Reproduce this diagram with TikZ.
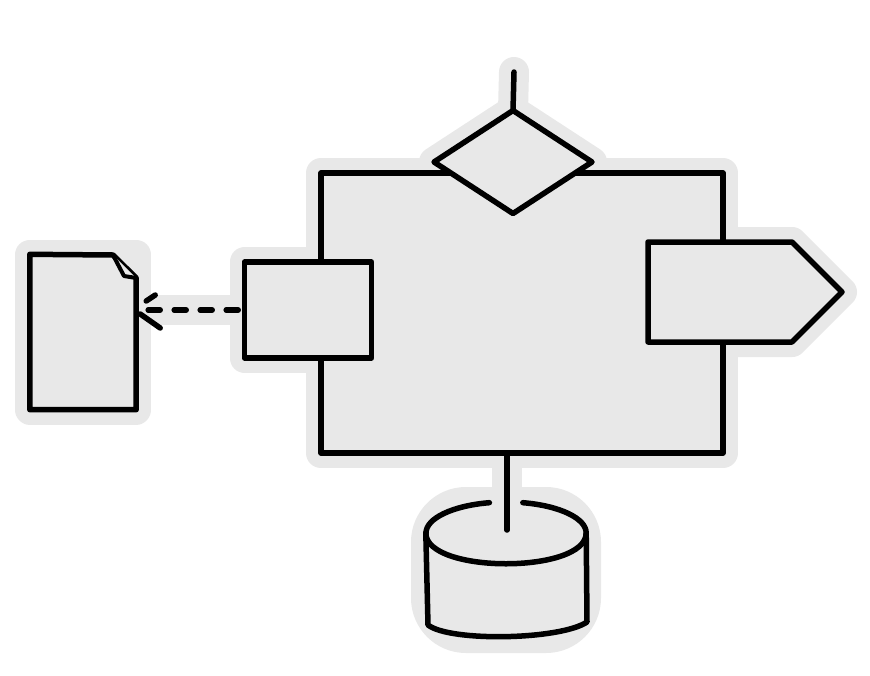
\documentclass[tikz,border=0pt]{standalone}
\usetikzlibrary{shapes.geometric,shapes.symbols,backgrounds}
\definecolor{paper}{HTML}{E8E8E8}
\tikzset{
  ink/.style={draw=black, fill=paper, line width=5.5pt, line join=round, line cap=round, inner sep=0pt, outer sep=0pt},
  halo/.style={draw=paper, fill=paper, line width=30pt, line join=round, line cap=round, inner sep=0pt, outer sep=0pt},
  wire/.style={draw=black, line width=5.5pt, line cap=round},
  mainshape/.style={rectangle, minimum width=402pt, minimum height=280pt},
  decisionshape/.style={diamond, minimum width=158pt, minimum height=103pt},
  inputshape/.style={rectangle, minimum width=127pt, minimum height=96pt},
  docshape/.style={rectangle, minimum width=106pt, minimum height=155pt},
  outputshape/.style={signal, signal to=east, signal pointer angle=90, minimum width=194pt, minimum height=100pt},
  storeshape/.style={rectangle, minimum width=160pt, minimum height=136pt},
}
\begin{document}
\begin{tikzpicture}[x=1pt, y=-1pt]
	\useasboundingbox (0,0) rectangle (870,675);
	% shapes
	\node[ink, mainshape] (main) at (522,313) {};
	\node[ink, decisionshape] (dia) at (513,162) {};
	\node[ink, inputshape] (box) at (308,310) {};
	\node[ink, outputshape, anchor=west] (out) at (648,292) {};
	\node[storeshape] (db) at (506,570) {};
	\node[docshape] (doc) at (83,332) {};
	\coordinate (top) at (514,72);
	\coordinate (dbtop) at (506,533);
	\coordinate (dbin) at (507,530);
	\coordinate (fold) at (113,255);
	\coordinate (foot) at (doc.east |- box.west);
	% paper cut-out
	\begin{scope}[on background layer]
		\fill[white] (0,0) rectangle (870,675);
		\node[halo, mainshape] at (main) {};
		\node[halo, decisionshape] at (dia) {};
		\node[halo, inputshape] at (box) {};
		\node[halo, outputshape, anchor=west] at (648,292) {};
		\node[halo, storeshape, rounded corners=40pt] at (db) {};
		\node[halo, docshape] at (doc) {};
		\draw[halo] (top) -- (dia.north);
		\draw[halo] (main.south -| dbin) -- (dbin);
		\draw[halo] (foot) -- (box.west);
	\end{scope}
	% data store, back rim left open round the wire
	\draw[ink] (db.west |- dbtop) -- (428,625) .. controls (450,642) and (560,640) .. (587,622) -- (db.east |- dbtop);
	\draw[ink, fill=none] (db.west |- dbtop) .. controls (426,574) and (586,574) .. (db.east |- dbtop)
		arc[start angle=0, end angle=78, x radius=80pt, y radius=31pt];
	\draw[ink, fill=none] (dbtop) ++(102:80pt and 31pt) arc[start angle=102, end angle=180, x radius=80pt, y radius=31pt];
	% document with folded corner
	\draw[ink] (doc.north west) -- (fold) -- (doc.north east |- 0,278) -- (doc.south east) -- (doc.south west) -- cycle;
	\draw[ink, line width=4pt] (fold) -- (124,276) -- (doc.north east |- 0,278);
	% connectors
	\draw[wire] (top) -- (dia.north);
	\draw[wire] (main.south -| dbin) -- (dbin);
	\draw[wire, dash pattern=on 12pt off 14pt, dash phase=-12pt] (foot) -- (box.west);
	\draw[wire] (foot) ++(10,-9) -- ++(9,-6);
	\draw[wire] (foot) ++(4,4) -- ++(20,14);
\end{tikzpicture}
\end{document}
